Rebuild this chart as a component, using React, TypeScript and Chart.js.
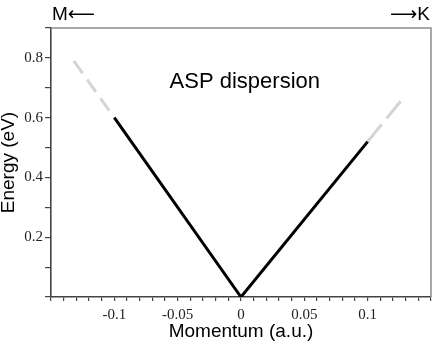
import React, { useEffect, useRef } from "react";
import { Chart, registerables } from "chart.js";

Chart.register(...registerables);

// ---- data ----
const SOLID_X = [-0.1, 0, 0.1];
const SOLID_Y = [0.6, 0, 0.52];
const DASH_LEFT_X = [-0.132, -0.1];
const DASH_LEFT_Y = [0.79, 0.6];
const DASH_RIGHT_X = [0.126, 0.1];
const DASH_RIGHT_Y = [0.655, 0.52];

const X_MIN = -0.15;
const X_MAX = 0.15;
const X_MINOR_STEP = 0.01;
const X_TICK_LABELS = [-0.1, -0.05, 0, 0.05, 0.1];

const Y_MIN = 0;
const Y_MAX = 0.9;
const Y_MINOR_STEP = 0.1;
const Y_TICK_LABELS = [0.2, 0.4, 0.6, 0.8];

const X_TITLE = "Momentum (a.u.)";
const Y_TITLE = "Energy (eV)";
const NOTE = "ASP dispersion";
const NOTE_X = 0.003;
const NOTE_Y = 0.7;
const LEFT_DIR = "M\u27F5";
const RIGHT_DIR = "\u27F6K";

const SANS = '"Liberation Sans", Arial, "DejaVu Sans", sans-serif';
const SERIF = '"Liberation Serif", "Times New Roman", serif';

const pts = (xs: number[], ys: number[]) => xs.map((x, i) => ({ x, y: ys[i] }));

const minorTicks = (min: number, max: number, step: number) => {
  const n = Math.round((max - min) / step);
  return Array.from({ length: n + 1 }, (_, i) => ({ value: min + i * step }));
};

const labelFor = (v: number, labels: number[]) => {
  const hit = labels.find((l) => Math.abs(l - v) < 1e-9);
  return hit === undefined ? "" : String(hit);
};

const decorPlugin = {
  id: "decor",
  afterDraw(chart: any) {
    const { ctx, chartArea: a, scales } = chart;
    ctx.save();
    // frame top/right
    ctx.strokeStyle = "#8c8c8c";
    ctx.lineWidth = 1.5;
    ctx.beginPath();
    ctx.moveTo(a.left, a.top);
    ctx.lineTo(a.right, a.top);
    ctx.lineTo(a.right, a.bottom);
    ctx.stroke();

    ctx.fillStyle = "#000";
    ctx.font = `22px ${SANS}`;
    ctx.textAlign = "center";
    ctx.textBaseline = "alphabetic";
    ctx.fillText(NOTE, scales.x.getPixelForValue(NOTE_X), scales.y.getPixelForValue(NOTE_Y));

    ctx.font = `19px ${SANS}`;
    ctx.textAlign = "left";
    ctx.fillText(LEFT_DIR, a.left + 1, a.top - 8.5);
    ctx.textAlign = "right";
    ctx.fillText(RIGHT_DIR, a.right - 1, a.top - 8.5);
    ctx.restore();
  },
};

export default function App() {
  const ref = useRef<HTMLCanvasElement | null>(null);

  useEffect(() => {
    if (!ref.current) return;
    const axisColor = "#444";
    const chart = new Chart(ref.current, {
      type: "line",
      data: {
        datasets: [
          {
            data: pts(SOLID_X, SOLID_Y),
            borderColor: "#000",
            borderWidth: 3,
            borderJoinStyle: "miter",
            pointRadius: 0,
            tension: 0,
          },
          {
            data: pts(DASH_LEFT_X, DASH_LEFT_Y),
            borderColor: "#d4d4d4",
            borderWidth: 3,
            borderDash: [15, 8],
            pointRadius: 0,
          },
          {
            data: pts(DASH_RIGHT_X, DASH_RIGHT_Y),
            borderColor: "#d4d4d4",
            borderWidth: 3,
            borderDash: [22, 8],
            pointRadius: 0,
          },
        ],
      },
      options: {
        responsive: false,
        animation: false,
        devicePixelRatio: 1,
        layout: { padding: { top: 28, right: 3, left: 0, bottom: 0 } },
        plugins: { legend: { display: false }, tooltip: { enabled: false } },
        scales: {
          x: {
            type: "linear",
            min: X_MIN,
            max: X_MAX,
            afterBuildTicks: (s: any) => {
              s.ticks = minorTicks(X_MIN, X_MAX, X_MINOR_STEP);
            },
            afterFit: (s: any) => {
              s.height = 48;
            },
            grid: {
              drawOnChartArea: false,
              drawTicks: true,
              tickLength: 4,
              color: axisColor,
              lineWidth: 1.2,
            },
            border: { display: true, color: axisColor, width: 1.6 },
            ticks: {
              autoSkip: false,
              maxRotation: 0,
              minRotation: 0,
              padding: 5,
              color: "#222",
              font: { family: SERIF, size: 15 },
              callback: (v: any) => labelFor(Number(v), X_TICK_LABELS),
            },
            title: {
              display: true,
              text: X_TITLE,
              color: "#000",
              font: { family: SANS, size: 19 },
              padding: { top: 0, bottom: 2 },
            },
          },
          y: {
            type: "linear",
            min: Y_MIN,
            max: Y_MAX,
            afterBuildTicks: (s: any) => {
              s.ticks = minorTicks(Y_MIN, Y_MAX, Y_MINOR_STEP);
            },
            afterFit: (s: any) => {
              s.width = 51;
            },
            grid: {
              drawOnChartArea: false,
              drawTicks: true,
              tickLength: 6,
              color: axisColor,
              lineWidth: 1.2,
            },
            border: { display: true, color: axisColor, width: 1.6 },
            ticks: {
              autoSkip: false,
              padding: 2,
              color: "#222",
              font: { family: SERIF, size: 15 },
              callback: (v: any) => labelFor(Number(v), Y_TICK_LABELS),
            },
            title: {
              display: true,
              text: Y_TITLE,
              color: "#000",
              font: { family: SANS, size: 19 },
              padding: { top: -3, bottom: 0 },
            },
          },
        },
      },
      plugins: [decorPlugin],
    } as any);
    return () => chart.destroy();
  }, []);

  return (
    <div style={{ position: "fixed", left: 0, top: 0, width: 436, height: 345, background: "#fff" }}>
      <canvas ref={ref} width={436} height={345} style={{ display: "block", width: 436, height: 345 }} />
    </div>
  );
}
